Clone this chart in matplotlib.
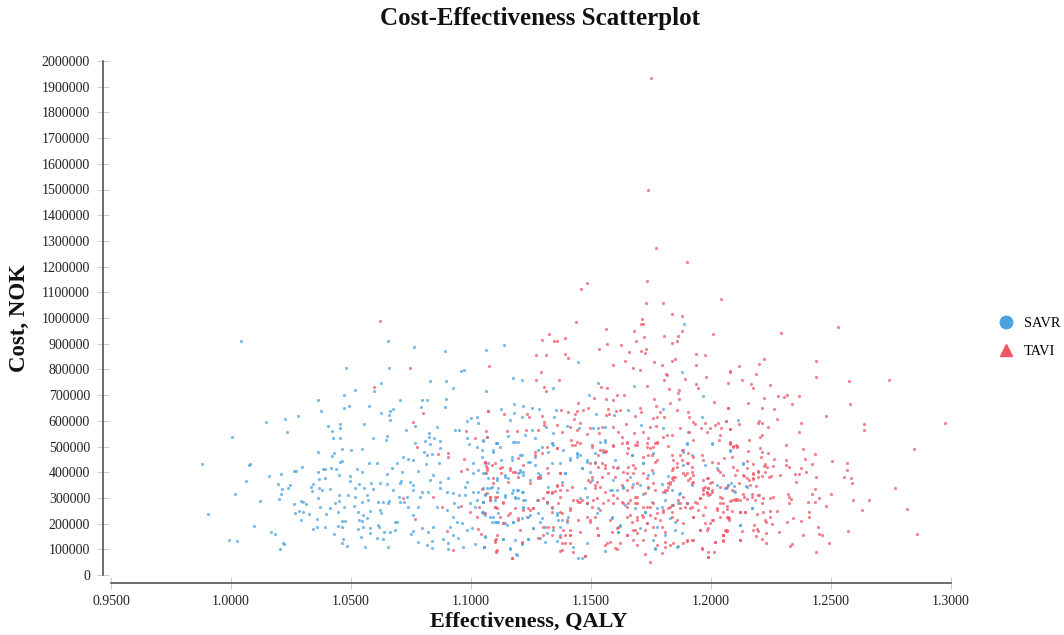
import matplotlib
matplotlib.use("Agg")
import matplotlib.pyplot as plt
from matplotlib.lines import Line2D
from matplotlib.ticker import FormatStrFormatter

# (effectiveness in QALY, cost in thousand NOK)
savr_points = [
    (1.0040,909),(1.0654,909),(1.0764,886),(1.0892,872),(1.1061,877),(1.0481,807),(1.0660,807),(1.0957,794),(1.0971,798),
    (1.0828,756),(1.0897,756),(1.0625,746),(1.0927,728),(1.0515,719),(1.0595,715),(1.1061,715),(1.0471,700),(1.0361,682),
    (1.0704,682),(1.0797,682),(1.0818,682),(1.0897,686),(1.0490,658),(1.0471,650),(1.0575,658),(1.0793,654),(1.0892,654),
    (1.0377,639),(1.0674,645),(1.0664,639),(1.0625,630),(1.0660,621),(1.0664,603),(1.0278,617),(1.0224,608),(1.0145,594),
    (1.0556,589),(1.0406,580),(1.0456,589),(1.0456,571),(1.0421,562),(1.0233,556),(1.0768,580),(1.0729,565),(1.0858,576),
    (1.0932,565),(1.0951,565),(1.0006,538),(1.0427,533),(1.0456,533),(1.0590,533),(1.0645,524),(1.0649,542),(1.0824,553),
    (1.0824,538),(1.0809,520),(1.0847,533),(1.0872,520),(1.0768,515),(1.0828,510),(1.0982,533),(1.0990,510),(1.0984,600),
    (1.1002,612),(1.1027,616),(1.1030,592),(0.9878,432),(1.0079,432),(1.0074,427),(1.0159,385),(1.0208,394),(1.0263,403),
    (1.0270,403),(1.0297,421),(1.0061,366),(1.0195,354),(1.0214,335),(1.0208,315),(1.0199,297),(1.0238,338),(1.0247,349),
    (1.0015,316),(1.0120,288),(0.9906,237),(1.0263,275),(1.0292,288),(1.0302,284),(1.0313,275),(1.0267,243),(1.0283,250),
    (1.0302,246),(1.0327,237),(1.0293,214),(1.0095,191),(1.0168,169),(1.0184,158),(0.9990,135),(1.0025,131),(1.0218,126),
    (1.0222,121),(1.0203,102),(1.0332,344),(1.0343,354),(1.0367,372),(1.0361,399),(1.0382,412),(1.0392,412),(1.0392,376),
    (1.0415,418),(1.0436,412),(1.0361,477),(1.0421,464),(1.0431,473),(1.0456,441),(1.0461,445),(1.0463,492),(1.0500,486),
    (1.0545,492),(1.0452,389),(1.0496,385),(1.0545,399),(1.0339,326),(1.0367,339),(1.0379,329),(1.0411,335),(1.0361,298),
    (1.0371,266),(1.0411,261),(1.0434,279),(1.0452,288),(1.0471,266),(1.0450,311),(1.0489,311),(1.0515,302),(1.0495,367),
    (1.0515,339),(1.0535,354),(1.0556,339),(1.0585,357),(1.0527,412),(1.0575,436),(1.0610,436),(1.0590,333),(1.0565,311),
    (1.0572,292),(1.0545,283),(1.0511,270),(1.0357,218),(1.0392,187),(1.0357,187),(1.0343,178),(1.0396,237),(1.0446,246),
    (1.0461,210),(1.0477,210),(1.0446,191),(1.0461,185),(1.0431,158),(1.0465,140),(1.0461,126),(1.0485,112),(1.0531,246),
    (1.0550,232),(1.0565,223),(1.0535,214),(1.0545,210),(1.0552,187),(1.0531,178),(1.0579,250),(1.0578,182),(1.0579,163),
    (1.0540,149),(1.0560,108),(1.0608,144),(1.0635,140),(1.0654,108),(1.0614,285),(1.0635,283),(1.0658,288),(1.0656,279),
    (1.0621,253),(1.0624,240),(1.0611,194),(1.0617,187),(1.0639,167),(1.0663,167),(1.0684,176),(1.0690,207),(1.0684,207),
    (1.0621,357),(1.0649,354),(1.0674,331),(1.0704,357),(1.0710,367),(1.0649,393),(1.0670,418),(1.0690,434),(1.0718,460),
    (1.0739,450),(1.0711,399),(1.0746,363),(1.0760,350),(1.0781,406),(1.0760,447),(1.0699,305),(1.0704,285),(1.0721,283),
    (1.0732,305),(1.0760,331),(1.0788,305),(1.0795,324),(1.0781,266),(1.0760,233),(1.0739,263),(1.0749,158),(1.0760,172),
    (1.0795,182),(1.0822,169),(1.0843,188),(1.0779,130),(1.0818,117),(1.0838,104),(1.0839,134),(1.0882,141),(1.0903,123),
    (1.0906,100),(1.0965,108),(1.1017,121),(1.1056,108),(1.0829,370),(1.0871,363),(1.0906,376),(1.0843,389),(1.0868,434),
    (1.0813,432),(1.0815,467),(1.0804,480),(1.0836,471),(1.0871,493),(1.0822,322),(1.0871,337),(1.0902,324),(1.0927,318),
    (1.0951,311),(1.0857,266),(1.0899,253),(1.0929,279),(1.0947,266),(1.0975,311),(1.0927,227),(1.0940,207),(1.0961,201),
    (1.0913,188),(1.0982,175),(1.1003,182),(1.0927,156),(1.0947,143),(1.0975,344),(1.0982,363),(1.1010,396),(1.1031,409),
    (1.1010,324),(1.1031,324),(1.1052,337),(1.1024,292),(1.1052,285),(1.1079,292),(1.0996,279),(1.1017,266),(1.1052,240),
    (1.1079,227),(1.1100,207),(1.1114,240),(1.1010,434),(1.1045,460),(1.1093,480),(1.1052,525),(1.1107,512),(1.1024,499),
    (1.1139,895),(1.1447,830),(1.1175,765),(1.1214,757),(1.1343,728),(1.1531,746),(1.1681,737),(1.1888,978),(1.1878,789),
    (1.1492,700),(1.1968,695),(1.1124,646),(1.1179,665),(1.1218,658),(1.1253,650),(1.1283,646),(1.1181,629),(1.1164,603),
    (1.1211,616),(1.1353,641),(1.1347,613),(1.1521,626),(1.1596,622),(1.1656,641),(1.1799,646),(1.1961,616),(1.2111,603),
    (1.1531,573),(1.1510,571),(1.1558,576),(1.1449,571),(1.1399,580),(1.1710,584),(1.1799,571),(1.1906,555),(1.1899,510),
    (1.2003,510),(1.1878,486),(1.1103,512),(1.1065,538),(1.1051,521),(1.1156,542),(1.1176,519),(1.1197,519),(1.1225,545),
    (1.1253,564),(1.1267,532),(1.1336,512),(1.1313,577),(1.1343,554),(1.1294,499),(1.1204,467),(1.1239,441),(1.1267,460),
    (1.1169,460),(1.1124,447),(1.1072,434),(1.1051,396),(1.1107,376),(1.1142,389),(1.1204,402),(1.1218,402),(1.1246,370),
    (1.1288,389),(1.1058,311),(1.1079,337),(1.1114,337),(1.1169,318),(1.1190,331),(1.1211,324),(1.1225,292),(1.1183,298),
    (1.1142,305),(1.1100,292),(1.1051,285),(1.1051,246),(1.1093,227),(1.1114,207),(1.1142,201),(1.1176,207),(1.1218,266),
    (1.1239,227),(1.1281,240),(1.1294,220),(1.1315,279),(1.1357,240),(1.1364,214),(1.1371,188),(1.1343,175),(1.1315,162),
    (1.1058,152),(1.1054,108),(1.1135,141),(1.1163,104),(1.1188,80),(1.1211,119),(1.1239,141),(1.1260,182),(1.1288,143),
    (1.1357,134),(1.1308,130),(1.1426,108),(1.1482,123),(1.1447,67),(1.1461,67),(1.1558,95),(1.1621,192),(1.1614,169),
    (1.1371,434),(1.1392,398),(1.1413,454),(1.1440,469),(1.1461,415),(1.1496,402),(1.1482,447),(1.1517,473),(1.1551,480),
    (1.1538,519),(1.1558,525),(1.1600,447),(1.1614,421),(1.1593,370),(1.1586,331),(1.1635,337),(1.1670,467),(1.1718,434),
    (1.1663,383),(1.1704,350),(1.1725,246),(1.1586,227),(1.1524,240),(1.1482,279),(1.1642,272),(1.1683,259),(1.1760,396),
    (1.1871,318),(1.1899,279),(1.1836,272),(1.1857,110),(1.1767,104),(1.1704,182),(1.1385,486),(1.1322,344),(1.1274,292),
    (1.1406,227),(1.1482,305),(1.1440,460),(1.2081,482),(1.2132,432),(1.2061,340),(1.2072,350),(1.2083,357),
    (1.2096,346),(1.2096,326),(1.2145,346),(1.2171,261),(1.2121,196),
    # dense part, second pass
    (1.1899,512),(1.2003,512),(1.1760,473),(1.1885,480),(1.1920,467),(1.1885,428),(1.1975,428),(1.2024,415),(1.2079,486),
    (1.2135,434),(1.1718,437),(1.1739,391),(1.1822,385),(1.1794,356),(1.1739,337),(1.1718,317),(1.1808,324),(1.1836,330),
    (1.1868,317),(1.1808,292),(1.1753,285),(1.1725,246),(1.1774,259),(1.1794,266),(1.1836,272),(1.1864,279),(1.1899,279),
    (1.1829,220),(1.1850,207),(1.1732,201),(1.1774,185),(1.1808,155),(1.1850,175),(1.1878,162),(1.1760,136),(1.1864,113),
    (1.1767,100),(1.2121,194),(1.2170,259),(1.2149,343),(1.2100,324),(1.2072,350),(1.2058,337),(1.2024,350),(1.1920,350),
    (1.1107,512),(1.1121,499),(1.1183,519),(1.1044,486),(1.1093,486),(1.1058,395),(1.1072,376),(1.1107,369),(1.1142,382),
    (1.1156,376),(1.1204,408),(1.1218,389),(1.1197,395),(1.1169,447),(1.1211,467),(1.1246,441),(1.1267,428),(1.1281,395),
    (1.1288,376),(1.1336,512),(1.1343,506),(1.1322,480),(1.1336,434),(1.1281,486),(1.1065,337),(1.1086,343),(1.1058,317),
    (1.1107,324),(1.1142,311),(1.1176,330),(1.1197,330),(1.1218,324),(1.1183,304),(1.1197,298),(1.1218,292),(1.1051,285),
    (1.1044,246),(1.1058,233),(1.1086,207),(1.1107,207),(1.1135,201),(1.1149,194),(1.1176,207),(1.1211,220),(1.1232,227),
    (1.1260,181),(1.1239,142),(1.1183,136),(1.1163,103),(1.1135,142),(1.1058,149),(1.1054,110),(1.1190,78),(1.1211,123),
    (1.1315,285),(1.1336,259),(1.1357,233),(1.1378,214),(1.1399,207),(1.1371,155),(1.1392,395),(1.1378,363),(1.1413,447),
    (1.1461,415),(1.1482,441),(1.1517,441),(1.1503,369),(1.1475,337),(1.1454,298),(1.1482,279),(1.1531,259),(1.1586,220),
    (1.1621,194),(1.1614,168),(1.1579,330),(1.1607,330),(1.1635,343),(1.1676,356),(1.1670,467),(1.1558,519),(1.1440,473),
    (1.1454,467),(1.1218,259),(1.1246,233),(1.1288,207),(1.1308,188),
]
tavi_points = [
    (1.1749,1935),(1.1736,1497),(1.1771,1272),(1.1901,1219),(1.1735,1145),(1.1485,1138),(1.1458,1113),(1.2043,1074),
    (1.1729,1060),(1.1799,1060),(1.1839,1017),(1.1879,1009),(1.1713,996),(1.1710,975),(1.1715,975),(1.1439,983),
    (1.1563,957),(1.1679,948),(1.1881,948),(1.1864,931),(1.1806,930),(1.2008,939),(1.1722,927),(1.1326,936),(1.1392,923),
    (1.1294,914),(1.1346,909),(1.1360,909),(1.1565,900),(1.1686,909),(1.1625,896),(1.1839,901),(1.1858,909),(1.1535,879),
    (1.1729,879),(1.1707,873),(1.1725,862),(1.1657,869),(1.1271,855),(1.1313,855),(1.1390,859),(1.1403,844),(1.1938,859),
    (1.1976,855),(1.1640,833),(1.1851,842),(1.1839,831),(1.1761,827),(1.1593,818),(1.1797,817),(1.1936,817),(1.1674,807),
    (1.1706,798),(1.1293,791),(1.2079,791),(1.1813,782),(1.1817,777),(1.1893,761),(1.1978,770),(1.1269,757),(1.1367,757),
    (1.1806,760),(1.1938,744),(1.2072,747),(1.1735,737),(1.1306,730),(1.1314,715),(1.1540,730),(1.1565,728),(1.1824,724),
    (1.1947,726),(1.1867,720),(1.1864,707),(1.1610,700),(1.1638,700),(1.1593,682),(1.1513,689),(1.1561,683),(1.1763,685),
    (1.1865,685),(1.1446,668),(1.1831,668),(1.1771,658),(1.2013,672),(1.2071,650),(1.1072,637),(1.1139,626),(1.1235,626),
    (1.1243,616),(1.1297,619),(1.1304,597),(1.1376,641),(1.1404,634),(1.1432,625),(1.1443,639),(1.1488,650),(1.1468,642),
    (1.1429,608),(1.1569,645),(1.1575,626),(1.1561,624),(1.1603,637),(1.1621,641),(1.1704,648),(1.1707,636),(1.1685,617),
    (1.1760,612),(1.1774,616),(1.1789,634),(1.1804,613),(1.1860,642),(1.1906,634),(1.1910,613),(1.1926,597),(1.2064,600),
    (1.2040,573),(1.1976,590),(1.2017,584),(1.2031,593),(1.1933,588),(1.2079,569),(1.1957,572),(1.1149,562),(1.1190,562),
    (1.1228,564),(1.1281,564),(1.1304,582),(1.1357,585),(1.1378,558),(1.1413,577),(1.1454,590),(1.1440,564),(1.1496,571),
    (1.1485,549),(1.1544,577),(1.1535,551),(1.1593,577),(1.1614,558),(1.1645,588),(1.1628,538),(1.1679,554),(1.1718,558),
    (1.1746,577),(1.1769,580),(1.1736,532),(1.1774,519),(1.1801,538),(1.1815,545),(1.1871,571),(1.1836,545),(1.1910,558),
    (1.1926,525),(1.1982,558),(1.1996,571),(1.2037,545),(1.2035,525),(1.2079,512),(1.2107,499),(1.2090,503),(1.1593,503),
    (1.1628,512),(1.1649,516),(1.1690,519),(1.1683,506),(1.1732,499),(1.1767,512),(1.1822,503),(1.1885,486),(1.1906,473),
    (1.1871,467),(1.1926,460),(1.1843,447),(1.1774,447),(1.1753,467),(1.1718,460),(1.1656,493),(1.1649,473),(1.1551,486),
    (1.1531,467),(1.1563,484),(1.1503,499),(1.1415,525),(1.1433,506),(1.1454,512),(1.1360,493),(1.1315,499),(1.1267,480),
    (1.1058,441),(1.1065,408),(1.1100,434),(1.1128,421),(1.1124,396),(1.1163,415),(1.1183,402),(1.1218,428),(1.1197,383),
    (1.1156,363),(1.1281,376),(1.1315,415),(1.1322,396),(1.1288,383),(1.1246,357),(1.1371,396),(1.1378,350),(1.1360,346),
    (1.1350,328),(1.1322,324),(1.1336,320),(1.1419,344),(1.1399,331),(1.1371,305),(1.1364,279),(1.1440,292),(1.1454,285),
    (1.1496,434),(1.1517,434),(1.1531,421),(1.1489,370),(1.1503,383),(1.1524,363),(1.1544,434),(1.1558,415),(1.1572,396),
    (1.1538,344),(1.1517,337),(1.1558,324),(1.1607,415),(1.1635,402),(1.1656,421),(1.1676,428),(1.1676,396),(1.1649,370),
    (1.1628,350),(1.1670,344),(1.1690,357),(1.1718,396),(1.1732,376),(1.1739,344),(1.1760,359),(1.1767,331),(1.1725,318),
    (1.1690,305),(1.1663,292),(1.1836,409),(1.1857,421),(1.1843,383),(1.1822,357),(1.1808,331),(1.1829,363),(1.1801,324),
    (1.1899,434),(1.1920,421),(1.1899,396),(1.1926,389),(1.1906,370),(1.1920,357),(1.1885,396),(1.1968,370),(1.1989,376),
    (1.1996,357),(1.1968,337),(1.1989,337),(1.2003,324),(1.1982,318),(1.2031,409),(1.2052,389),(1.2037,344),(1.2065,344),
    (1.2086,331),(1.2037,305),(1.2052,279),(1.2107,292),(1.1954,298),(1.1940,279),(1.1920,266),(1.1892,266),(1.1871,279),
    (1.1829,266),(1.1801,253),(1.1836,227),(1.1760,279),(1.1746,266),(1.1718,266),(1.1683,279),(1.1649,266),(1.1628,285),
    (1.1607,298),(1.1593,279),(1.1551,279),(1.1524,298),(1.1503,266),(1.1482,279),(1.1461,292),(1.1413,253),(1.1399,214),
    (1.1378,240),(1.1336,266),(1.1315,285),(1.1281,292),(1.1260,259),(1.1218,253),(1.1197,214),(1.1163,240),(1.1135,279),
    (1.1107,305),(1.1079,292),(1.1065,318),(1.1100,266),(1.1058,240),(1.1135,201),(1.1204,175),(1.1246,253),(1.1301,188),
    (1.1322,188),(1.1343,188),(1.1385,175),(1.1413,175),(1.1392,156),(1.1447,214),(1.1482,227),(1.1517,227),(1.1524,182),
    (1.1496,214),(1.1454,169),(1.1579,214),(1.1586,169),(1.1614,188),(1.1649,227),(1.1670,207),(1.1690,214),(1.1718,227),
    (1.1732,201),(1.1676,175),(1.1690,162),(1.1760,188),(1.1774,240),(1.1836,246),(1.1857,214),(1.1885,201),(1.1926,227),
    (1.1954,175),(1.1982,175),(1.1996,201),(1.2024,253),(1.2072,227),(1.2065,175),(1.2037,227),(1.2010,214),(1.1107,156),
    (1.1100,130),(1.1104,91),(1.1169,65),(1.1211,130),(1.1281,143),(1.1371,149),(1.1413,156),(1.1378,97),(1.1413,123),
    (1.1392,126),(1.1475,75),(1.1531,156),(1.1558,117),(1.1579,130),(1.1600,104),(1.1621,123),(1.1649,156),(1.1676,136),
    (1.1690,117),(1.1725,82),(1.1746,49),(1.1774,117),(1.1794,87),(1.1808,130),(1.1829,117),(1.1885,123),(1.1899,134),
    (1.1926,136),(1.1961,104),(1.1986,71),(1.2012,88),(1.2017,130),(1.2052,136),(1.2052,156),(1.2065,172),(1.0620,987),
    (1.0746,807),(1.0597,732),(1.1075,813),(1.0802,632),(1.1071,638),(1.0760,594),(1.0979,560),(1.1061,559),(1.1068,538),
    (1.1017,533),(1.0774,499),(1.0861,472),(1.0903,475),(1.0906,460),(1.0972,453),(1.0957,405),(1.0982,411),(1.1059,440),
    (1.1063,425),(1.1086,428),(1.1063,396),(1.1093,379),(1.1090,359),(1.1045,335),(1.1079,305),(1.0718,301),(1.0843,302),
    (1.0878,263),(1.0960,270),(1.0996,246),(1.1024,227),(1.1035,263),(1.1100,263),(1.0767,218),(1.0899,171),(1.1031,178),
    (1.1042,158),(1.0927,99),(1.1104,139),(1.1104,95),(1.2531,964),(1.2290,943),(1.2219,839),(1.2200,821),(1.2118,812),
    (1.2436,834),(1.2079,792),(1.2187,782),(1.2439,772),(1.2128,760),(1.2574,756),(1.2740,760),(1.2168,742),
    (1.2175,728),(1.2247,739),(1.2221,687),(1.2279,696),(1.2304,691),(1.2318,699),(1.2365,695),(1.2156,668),(1.2336,664),
    (1.2579,664),(1.2069,650),(1.2211,650),(1.2264,645),(1.2479,620),(1.2276,608),(1.2194,593),(1.2201,600),(1.2211,590),
    (1.2117,588),(1.2063,600),(1.2376,590),(1.2368,555),(1.2638,586),(1.2638,563),(1.2975,591),(1.2079,568),(1.2236,575),
    (1.2213,545),(1.2203,538),(1.2158,525),(1.2078,517),(1.2079,508),(1.2093,498),(1.2104,506),(1.2110,501),(1.2311,504),
    (1.2382,491),(1.2204,495),(1.2211,480),(1.2238,475),(1.2846,489),(1.2156,481),(1.2208,460),(1.2086,458),(1.2054,455),
    (1.2261,453),(1.2314,446),(1.2392,450),(1.2433,469),(1.2506,442),(1.2567,436),(1.2149,444),(1.2224,433),(1.2176,431),
    (1.2090,420),(1.2313,429),(1.2325,421),(1.2260,424),(1.2232,419),(1.2219,424),(1.2420,432),(1.2374,415),(1.2567,408),
    (1.2149,416),(1.2110,409),(1.2197,405),(1.2176,398),(1.2176,394),(1.2225,401),(1.2243,380),(1.2249,385),(1.2349,394),
    (1.2368,394),(1.2396,402),(1.2289,390),(1.2438,383),(1.2553,380),(1.2582,379),(1.2589,358),(1.2139,385),(1.2197,383),
    (1.2213,385),(1.2100,390),(1.2160,370),(1.2176,372),(1.2354,362),(1.2117,357),(1.2163,349),(1.2186,346),(1.2767,340),
    (1.2435,333),(1.2419,315),(1.2501,316),(1.2322,315),(1.2326,302),(1.2333,294),(1.2325,279),(1.2246,301),(1.2257,302),
    (1.2201,310),(1.2218,298),(1.2172,302),(1.2182,292),(1.2214,279),(1.2132,314),(1.2137,302),(1.2149,294),(1.2100,294),
    (1.2110,294),(1.2086,292),(1.2079,289),(1.2451,301),(1.2403,285),(1.2433,283),(1.2590,292),(1.2658,293),(1.2478,268),
    (1.2817,257),(1.2628,252),(1.2193,237),(1.2246,250),(1.2275,250),(1.2215,245),(1.2246,227),(1.2225,214),(1.2121,244),
    (1.2140,246),(1.2089,250),(1.2068,268),(1.2065,257),(1.2408,246),(1.2408,224),(1.2342,223),(1.2375,211),(1.2317,207),
    (1.2228,207),(1.2256,198),(1.2181,195),(1.2177,175),(1.2193,178),(1.2197,171),(1.2229,165),(1.2283,166),(1.2131,170),
    (1.2447,188),(1.2450,161),(1.2462,154),(1.2572,170),(1.2857,161),(1.2383,156),(1.2188,153),(1.2121,135),(1.2051,134),
    (1.2050,156),(1.2214,139),(1.2231,126),(1.2339,121),(1.2329,112),(1.2492,126),(1.2436,91),(1.2072,220),(1.2068,227),
    (1.2075,214),(1.2061,172),
    # dense part, second pass
    (1.1975,343),(1.1989,337),(1.2003,330),(1.1968,330),(1.1982,324),(1.1996,317),(1.1968,317),(1.1989,311),(1.1843,369),
    (1.1829,356),(1.1822,343),(1.1815,330),(1.1850,382),(1.1836,376),(1.1732,512),(1.1746,493),(1.1760,499),(1.1774,512),
    (1.1739,467),(1.1767,441),(1.1753,408),(1.1836,467),(1.1857,434),(1.1843,415),(1.1878,447),(1.1906,434),(1.1920,402),
    (1.1913,376),(1.1892,389),(1.1926,363),(1.1961,467),(1.1968,447),(1.2003,441),(1.2031,434),(1.2038,402),(1.1982,376),
    (1.2003,363),(1.2045,298),(1.2038,279),(1.2024,259),(1.2052,246),(1.2073,220),(1.2100,292),(1.2121,292),(1.2121,246),
    (1.2142,246),(1.2170,317),(1.2197,311),(1.2149,376),(1.2176,376),(1.2197,402),(1.2135,389),(1.1926,227),(1.1968,233),
    (1.1975,201),(1.2003,214),(1.1954,175),(1.1989,181),(1.2058,175),(1.2051,155),(1.2121,136),(1.1899,279),(1.1913,259),
    (1.1871,259),(1.1843,272),(1.1822,259),(1.1801,246),(1.1788,214),(1.1767,220),(1.1746,233),(1.1732,266),(1.1711,233),
    (1.1794,188),(1.1808,168),(1.1767,155),(1.1725,175),(1.1718,136),(1.1808,110),(1.1843,123),(1.1899,136),(1.1920,136),
    (1.1961,103),(1.1989,90),(1.2017,129),(1.1989,71),(1.1954,298),(1.1933,285),(1.1885,305),(1.1864,292),(1.1947,253),
    (1.1975,266),(1.1058,434),(1.1065,415),(1.1121,415),(1.1163,408),(1.1176,402),(1.1197,454),(1.1267,467),(1.1294,473),
    (1.1281,382),(1.1371,395),(1.1360,493),(1.1419,506),(1.1371,330),(1.1357,350),(1.1336,324),(1.1315,324),(1.1426,292),
    (1.1447,285),(1.1413,259),(1.1371,246),(1.1336,246),(1.1301,298),(1.1260,259),(1.1239,259),(1.1197,220),(1.1156,233),
    (1.1121,227),(1.1107,259),(1.1079,304),(1.1100,304),(1.1135,285),(1.1183,259),(1.1100,136),(1.1107,97),(1.1169,65),
    (1.1371,93),(1.1336,155),(1.1301,155),(1.1413,155),(1.1378,123),(1.1426,91),(1.1475,75),(1.1531,155),(1.1496,207),
    (1.1538,253),(1.1510,292),(1.1572,292),(1.1593,311),(1.1635,279),(1.1656,279),(1.1690,279),(1.1683,175),(1.1649,155),
    (1.1607,181),(1.1565,123),(1.1607,103),(1.1496,363),(1.1517,350),(1.1538,486),(1.1558,480),(1.1593,506),(1.1649,512),
    (1.1690,506),(1.1558,428),(1.1593,421),(1.1544,382),(1.1600,382),(1.1649,395),(1.1683,415),(1.1649,330),(1.1683,304),
    (1.1663,233),(1.1690,227),(1.1440,519),(1.1503,506),
]
x_ticks = [0.95, 1.0, 1.05, 1.1, 1.15, 1.2, 1.25, 1.3]
y_ticks = list(range(0, 2000001, 100000))

plt.rcParams["font.family"] = ["Liberation Serif", "DejaVu Serif"]
SAVR_COLOR = "#4aa3df"
TAVI_COLOR = "#ef5565"
W, H = 1064, 635

fig = plt.figure(figsize=(W / 100, H / 100), dpi=100)
ax = fig.add_axes([111 / W, 1 - 575 / H, 840 / W, 514 / H])

ax.scatter([p[0] for p in savr_points], [p[1] * 1000 for p in savr_points],
           s=5, color=SAVR_COLOR, alpha=0.75, linewidths=0, clip_on=False)
ax.scatter([p[0] for p in tavi_points], [p[1] * 1000 for p in tavi_points],
           s=5, color=TAVI_COLOR, alpha=0.75, linewidths=0, clip_on=False)

ax.set_xlim(0.95, 1.3)
ax.set_ylim(0, 2000000)
ax.set_xticks(x_ticks)
ax.set_yticks(y_ticks)
ax.xaxis.set_major_formatter(FormatStrFormatter("%.4f"))
ax.yaxis.set_major_formatter(FormatStrFormatter("%d"))
ax.tick_params(axis="x", direction="inout", length=8.5, width=0.7, color="#cccccc",
               labelsize=10, labelcolor="#222222", pad=4.5)
ax.tick_params(axis="y", direction="inout", length=8.5, width=0.7, color="#cccccc",
               labelsize=10, labelcolor="#222222", pad=5)

for side in ["top", "right"]:
    ax.spines[side].set_visible(False)
for side in ["left", "bottom"]:
    ax.spines[side].set_position(("outward", 5.8))
    ax.spines[side].set_linewidth(1.1)
    ax.spines[side].set_color("#444444")
ax.spines["left"].set_bounds(0, 2000000)
ax.spines["bottom"].set_bounds(0.95, 1.3)

fig.text(540 / W, 1 - 19 / H, "Cost-Effectiveness Scatterplot", ha="center", va="center",
         fontsize=18, fontweight="bold", color="#111111")
fig.text(529 / W, 1 - 622 / H, "Effectiveness, QALY", ha="center", va="center",
         fontsize=16, fontweight="bold", color="#111111")
fig.text(19 / W, 1 - 318 / H, "Cost, NOK", ha="center", va="center", rotation=90,
         fontsize=16.5, fontweight="bold", color="#111111")

handles = [
    Line2D([], [], linestyle="none", marker="o", markersize=9, color=SAVR_COLOR, label="SAVR"),
    Line2D([], [], linestyle="none", marker="^", markersize=9, color=TAVI_COLOR, label="TAVI"),
]
fig.legend(handles=handles, loc="upper left", bbox_to_anchor=(994 / W, 1 - 317 / H), frameon=False,
           fontsize=10.4, handletextpad=0.45, labelspacing=1.0, borderpad=0, borderaxespad=0,
           handlelength=1.6)

fig.savefig("out.png", dpi=100)
